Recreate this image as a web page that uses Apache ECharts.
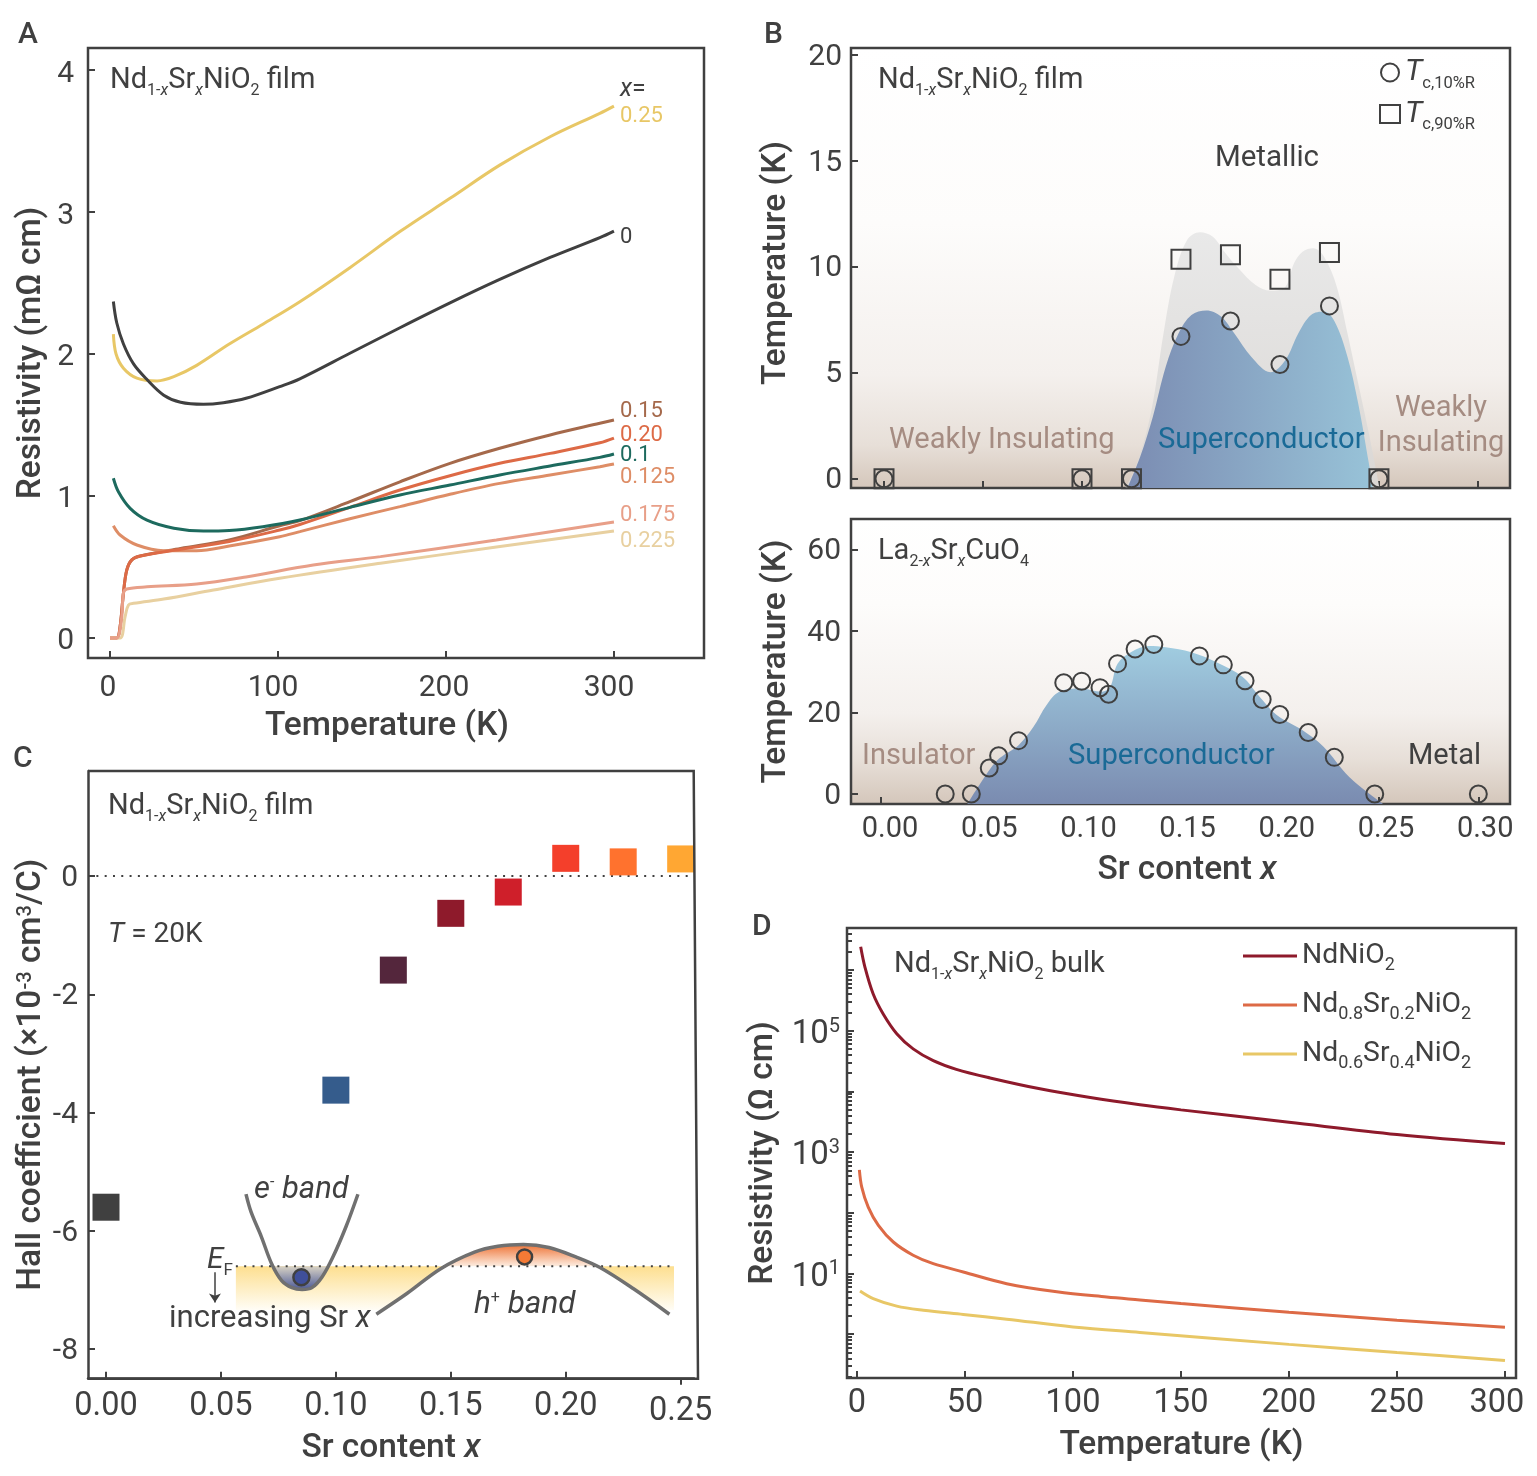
<!DOCTYPE html>
<html><head><meta charset="utf-8">
<style>html,body{margin:0;padding:0;background:#fff}#c{width:1537px;height:1476px}</style>
<script src="https://cdn.jsdelivr.net/npm/echarts@6/dist/echarts.min.js"></script>
</head><body><div id="c"></div>
<script>
// ---------- Panel A : resistivity vs temperature [T (K), rho (mOhm cm)]
const rhoA_000=[[2,2.37],[4,2.22],[8,2.07],[14,1.93],[22,1.82],[32,1.71],[42,1.66],[55.6,1.646],[67.5,1.657],[81,1.688],[101,1.77],[113,1.825],[142.8,2.005],[172.6,2.185],[202.4,2.36],[232,2.525],[262,2.68],[291.6,2.82],[300,2.866]];
const rhoA_025=[[2,2.14],[3.6,2.0],[8,1.9],[16,1.83],[28,1.81],[38,1.84],[51.6,1.92],[71,2.07],[91,2.21],[113,2.368],[142.8,2.608],[172.6,2.862],[202.4,3.096],[232,3.33],[262,3.53],[291.6,3.695],[300,3.746]];
const rhoA_010=[[2,1.125],[5,1.03],[12,.913],[22,.83],[38,.773],[55.6,.753],[71,.757],[91,.784],[113,.831],[142.8,.92],[172.6,1.007],[202.4,1.077],[232,1.148],[262,1.211],[291.6,1.272],[300,1.296]];
const rhoA_0125=[[2,.79],[6,.725],[16,.655],[32,.615],[51.6,.615],[71,.648],[101,.713],[113,.749],[142.8,.84],[172.6,.925],[202.4,1.012],[232,1.089],[262,1.148],[291.6,1.206],[300,1.225]];
const rhoA_015=[[0,0],[4,0],[6,.08],[8,.317],[10,.479],[13,.55],[18,.577],[42,.63],[71,.69],[101,.79],[113,.826],[142.8,.96],[172.6,1.1],[202.4,1.23],[232,1.336],[262,1.43],[291.6,1.512],[300,1.535]];
const rhoA_020=[[0,0],[4,0],[6,.08],[8,.317],[10,.479],[13,.55],[18,.577],[42,.625],[71,.68],[101,.76],[113,.799],[142.8,.92],[172.6,1.042],[202.4,1.143],[232,1.23],[262,1.3],[291.6,1.375],[300,1.408]];
const rhoA_0175=[[0,0],[4,0],[7,.15],[8,.317],[10,.345],[22,.36],[51.6,.38],[81,.43],[121,.514],[161,.573],[230,.69],[300,.817]];
const rhoA_0225=[[0,0],[6,0],[9,.15],[11,.232],[14,.244],[32,.274],[61.6,.338],[101,.42],[161,.526],[230,.64],[300,.754]];
const ticksA_x=[0,100,200,300], ticksA_y=[0,1,2,3,4];
// ---------- Panel B : Nd1-xSrxNiO2 film phase diagram [x, T (K)]
const tc10=[[0,0],[.1,0],[.125,0],[.15,6.72],[.175,7.45],[.2,5.39],[.225,8.16],[.25,0]];
const tc90=[[0,0],[.1,0],[.125,0],[.15,10.36],[.175,10.58],[.2,9.42],[.225,10.68],[.25,0]];
const domeGrey=[[.1218,-.45],[.1272,.57],[.1348,3.09],[.1412,6.87],[.1466,9.54],[.1531,11.27],[.1596,11.64],[.1661,11.43],[.1725,10.65],[.179,9.94],[.1877,9.15],[.1952,8.88],[.2028,9.07],[.2071,10.17],[.2114,10.72],[.2168,10.88],[.2222,10.49],[.2287,9.07],[.2341,6.87],[.2395,4.51],[.2449,2.14],[.2503,-.45]];
const domeBlue=[[.1229,-.45],[.1294,1.04],[.1358,2.93],[.1423,5.29],[.1488,6.87],[.1553,7.73],[.1628,7.94],[.1704,7.65],[.1769,6.87],[.1855,5.76],[.1952,5.03],[.2028,5.61],[.2093,6.87],[.2157,7.73],[.2222,7.89],[.2276,7.42],[.2341,5.76],[.2395,3.56],[.2449,.73],[.247,-.45]];
const ticksB_x=[0,.05,.1,.15,.2,.25,.3], ticksB_y=[0,5,10,15,20];
// ---------- LSCO phase diagram [x, Tc (K)]
const lscoTc=[[.0324,0],[.0455,0],[.0545,6.4],[.0592,9.4],[.0692,13.1],[.0919,27.3],[.1009,27.7],[.1101,26.1],[.1144,24.5],[.1189,32],[.1277,35.6],[.1371,36.7],[.16,33.9],[.172,31.7],[.1829,27.8],[.1915,23.2],[.2003,19.5],[.2146,15.1],[.2277,9],[.248,0],[.3,0]];
const lscoDome=[[.0435,-2.45],[.05,2.6],[.0585,8.3],[.0692,12],[.0767,16.5],[.0832,21.8],[.0896,25.1],[.1003,25.9],[.111,25.1],[.1152,26.3],[.1189,32],[.126,34.9],[.1346,36.3],[.1431,36],[.156,34.8],[.1688,32.3],[.1816,28.8],[.1902,23.9],[.1988,19.4],[.2116,15.7],[.2223,11.6],[.2352,4.2],[.2523,-2.45]];
const ticksL_x=[0,.05,.1,.15,.2,.25,.3], ticksL_y=[0,20,40,60];
// ---------- Panel C : Hall coefficient
const hallX=[0,.1,.125,.15,.175,.2,.225,.25];
const hallY=[-5.6,-3.62,-1.59,-.63,-.27,.3,.24,.29];
const hallColors=['#404040','#355c8c','#54263c','#8e1a2b','#cf1f2a','#f43f2b','#ff722e','#ffa733'];
const ticksC_x=[0,.05,.1,.15,.2], ticksC_y=[-8,-6,-4,-2,0];
const EF=-6.6;
const efLine=[[.0565,EF],[.2471,EF]];
const zeroLine=[[-.0078,0],[.2558,0]];
const eBand=[[.0609,-5.38],[.0631,-5.68],[.0676,-6.1],[.072,-6.55],[.0764,-6.84],[.0809,-6.96],[.0853,-6.99],[.0896,-6.96],[.094,-6.78],[.0985,-6.46],[.1044,-5.93],[.1096,-5.38]];
const eFill=[[.0727,EF],[.0764,-6.84],[.0809,-6.96],[.0853,-6.99],[.0896,-6.96],[.094,-6.78],[.0975,EF]];
const hBand=[[.1176,-7.41],[.1309,-7.06],[.1456,-6.64],[.1603,-6.36],[.1705,-6.26],[.1816,-6.23],[.1927,-6.28],[.2044,-6.44],[.2149,-6.62],[.2295,-6.98],[.2451,-7.41]];
const hFill=[[.1466,EF],[.1603,-6.36],[.1705,-6.26],[.1816,-6.23],[.1927,-6.28],[.2044,-6.44],[.2138,EF]];
const eDot=[.085,-6.785], hDot=[.1821,-6.44];
// ---------- Panel D : bulk resistivity [T (K), rho (Ohm cm)]
const rhoD_Nd=[[1.7,2.4e6],[3.7,1.1e6],[7.5,4e5],[12.2,1.86e5],[18.4,8.9e4],[26,5e4],[35.3,3.2e4],[46,2.3e4],[61.6,1.66e4],[84.7,1.1e4],[108,7.9e3],[131,6e3],[150,4.95e3],[200,3.1e3],[250,1.95e3],[300,1.38e3]];
const rhoD_Sr2=[[1.1,510],[2.2,265],[5.2,124],[9.9,62],[16.8,33],[26,20],[35.3,14.5],[49.2,10.6],[69.3,6.8],[92.5,5],[115.6,4.1],[131,3.67],[150,3.2],[200,2.3],[250,1.7],[300,1.3]];
const rhoD_Sr4=[[1.4,5.15],[7.5,3.86],[18.4,2.9],[30.7,2.48],[49.2,2.11],[69.3,1.77],[100,1.32],[131,1.07],[200,.68],[250,.5],[300,.37]];
const ticksD_x=[0,50,100,150,200,250,300];
const ticksD_major=[1,10,100,1e3,1e4,1e5,1e6];
const ticksD_labeled=[10,1e3,1e5];
const ticksD_minor=[.2,.3,.4,.5,.6,.7,.8,.9,2,3,4,5,6,7,8,9,20,30,40,50,60,70,80,90,200,300,400,500,600,700,800,900,2e3,3e3,4e3,5e3,6e3,7e3,8e3,9e3,2e4,3e4,4e4,5e4,6e4,7e4,8e4,9e4,2e5,3e5,4e5,5e5,6e5,7e5,8e5,9e5,2e6,3e6,4e6];

const INK='#404040', FONT='Roboto';
const chart=echarts.init(document.getElementById('c'),null,{renderer:'canvas'});

const subRich=(fs,sub)=>({
  s:{fontSize:sub,fontFamily:FONT,color:INK,fill:INK,padding:[sub+4,0,0,0]},
  si:{fontSize:sub,fontFamily:FONT,fontStyle:'italic',color:INK,fill:INK,padding:[sub+4,0,0,0]},
  i:{fontSize:fs,fontFamily:FONT,fontStyle:'italic',color:INK,fill:INK},
  u:{fontSize:sub,fontFamily:FONT,color:INK,fill:INK,padding:[0,0,sub,0]}
});
function txt(x,y,text,o={}){
  const fs=o.size||29;
  return {type:'text',z:100,silent:true,style:{x,y:y+4.5,text,fontFamily:FONT,fontSize:fs,fontWeight:o.weight||400,fontStyle:o.italic?'italic':'normal',fill:o.color||INK,align:o.align||'left',verticalAlign:'middle',rich:o.rich||subRich(fs,o.sub||16)}};
}
const gridBox=(l,t,r,b,extra={})=>Object.assign({left:l,top:t,width:r-l,height:b-t,show:true,borderColor:INK,borderWidth:2.5,backgroundColor:'transparent',outerBoundsMode:'none'},extra);
const bgGrad=(a,b,c)=>({type:'linear',x:0,y:0,x2:0,y2:1,colorStops:[{offset:0,color:'#ffffff'},{offset:a,color:'#fdfcfb'},{offset:b,color:'#f4f0ed'},{offset:c,color:'#e7dfd8'},{offset:1,color:'#d4c6ba'}]});
const NS=33.5;
const nameStyle=(extra={})=>Object.assign({fontFamily:FONT,fontSize:NS,fontWeight:500,color:INK,rich:{i:{fontFamily:FONT,fontSize:NS,fontWeight:500,fontStyle:'italic',color:INK},u:{fontFamily:FONT,fontSize:20,fontWeight:500,color:INK,padding:[0,0,13,0]}}},extra);

function axis(kind,grid,min,max,ticks,o={}){
  const fs=o.fs||30;
  let fmt=o.fmt, rich=o.rich;
  if(o.down){ // nudges the tick label below its tick through a rich-text box
    const inner=fmt||(v=>String(v));
    fmt=v=>'{v|'+inner(v)+'}';
    rich=Object.assign({v:{fontFamily:FONT,fontSize:fs,color:INK,padding:[o.down*2,0,0,0]}},rich||{});
  }
  return {type:o.type||'value',gridIndex:grid,min,max,position:o.position,
    axisLine:{show:!!o.line,onZero:false,lineStyle:{color:INK,width:2.5}},
    axisTick:{show:o.tick!==false,inside:o.inside!==false,length:o.tickLen||7,customValues:ticks,lineStyle:{color:INK,width:2}},
    axisLabel:{show:o.label!==false,customValues:o.labelValues||ticks,margin:o.margin||12,fontFamily:FONT,fontSize:fs,color:INK,formatter:fmt,rich,hideOverlap:false,showMinLabel:true,showMaxLabel:true},
    splitLine:{show:false},
    name:o.name,nameLocation:'middle',nameGap:o.nameGap,nameMoveOverlap:false,nameTextStyle:o.nameStyle||nameStyle()};
}
const f2=v=>(+v).toFixed(2);
const shiftA={0:4,100:10,200:4,300:10};

const xAxes=[
 axis('x',0,-13.1,353.6,ticksA_x,{position:'bottom',margin:15,fs:30,fmt:v=>'{p'+v+'|'+v+'}',
    rich:Object.fromEntries(ticksA_x.map(v=>['p'+v,{fontFamily:FONT,fontSize:30,color:INK,padding:[0,shiftA[v],0,0]}])),
    name:'Temperature (K)',nameGap:52,nameStyle:nameStyle({padding:[0,18,0,0]})}),
 axis('x',1,-.01667,.3162,ticksB_x,{position:'bottom',label:false}),
 axis('x',2,-.0149,.3159,ticksL_x,{position:'bottom',label:false}),
 axis('x',2,-.01966,.3125,ticksL_x,{position:'bottom',tick:false,fs:29,margin:11,fmt:f2,name:'Sr content {i|x}',nameGap:50,nameStyle:nameStyle({padding:[0,0,0,13]})}),
 axis('x',3,-.00783,.2558,ticksC_x,{position:'bottom',line:true,fs:32.5,margin:12,fmt:f2,name:'Sr content {i|x}',nameGap:53}),
 axis('x',3,-.00783,.2558,[.25],{position:'bottom',inside:false,tickLen:6,fs:32.5,margin:17,fmt:f2}),
 axis('x',4,-4.63,305.1,ticksD_x,{position:'bottom',fs:32.5,margin:9,name:'Temperature (K)',nameGap:51,fmt:v=>+v===300?'{l|300}':v,rich:{l:{fontFamily:FONT,fontSize:32.5,color:INK,padding:[0,16,0,0]}}})
];
const yAxes=[
 axis('y',0,-.141,4.155,ticksA_y,{position:'left',margin:14,down:4,name:'Resistivity (mΩ cm)',nameGap:39}),
 axis('y',1,-.44,20.34,ticksB_y,{position:'left',margin:9,down:2,name:'Temperature (K)',nameGap:57,nameStyle:nameStyle({padding:[0,0,0,10]})}),
 axis('y',2,-2.45,67.5,ticksL_y,{position:'left',margin:10,down:2,name:'Temperature (K)',nameGap:57}),
 axis('y',3,-8.5,1.777,ticksC_y,{position:'left',line:true,margin:10,down:2.5,name:'Hall coefficient (×10{u|-3} cm{u|3}/C)',nameGap:39}),
 axis('y',4,.19,4.9e6,ticksD_major,{type:'log',position:'left',labelValues:ticksD_labeled,margin:7,fs:33,name:'Resistivity (Ω cm)',nameGap:66,
    fmt:v=>'{d|10}{u|'+Math.round(Math.log10(v))+'}',rich:{d:{fontFamily:FONT,fontSize:33,color:INK,padding:[8,0,0,0]},u:{fontFamily:FONT,fontSize:20,color:INK,padding:[0,0,8,0]}}}),
 axis('y',4,.19,4.9e6,ticksD_minor,{type:'log',position:'left',label:false,tickLen:5})
];

const SM=.35;
const line=(name,data,color,xi,yi,o={})=>Object.assign({type:'line',name,data,xAxisIndex:xi,yAxisIndex:yi,showSymbol:false,symbol:'none',smooth:SM,lineStyle:{color,width:o.w||3},itemStyle:{color},silent:true,animation:false,z:o.z||5},o.extra||{});
const endL=(text,color,dy)=>({endLabel:{show:true,formatter:text,color,fontFamily:FONT,fontSize:22,distance:6,offset:[0,dy],align:'left',verticalAlign:'middle'}});
const area=(name,data,fill,xi,yi,origin,z,o={})=>({type:'line',name,data,xAxisIndex:xi,yAxisIndex:yi,showSymbol:false,symbol:'none',smooth:o.smooth===undefined?SM:o.smooth,lineStyle:{width:0,opacity:0},areaStyle:{color:fill,opacity:1,origin},silent:true,animation:false,z});
const open=(name,data,sym,size,xi,yi,z)=>({type:'scatter',name,data,xAxisIndex:xi,yAxisIndex:yi,symbol:sym,symbolSize:size,itemStyle:{color:'rgba(0,0,0,0)',borderColor:INK,borderWidth:2,opacity:1},silent:true,animation:false,z:z||8});

const series=[
 line('x=0.15',rhoA_015,'#a5694b',0,0,{extra:endL('0.15','#a5694b',-9)}),
 line('x=0.125',rhoA_0125,'#de8d66',0,0,{extra:endL('0.125','#de8d66',13)}),
 line('x=0.20',rhoA_020,'#dd6a46',0,0,{extra:endL('0.20','#dd6a46',-3)}),
 line('x=0.1',rhoA_010,'#1d6a5e',0,0,{extra:endL('0.1','#1d6a5e',2)}),
 line('x=0.225',rhoA_0225,'#e8d0a0',0,0,{extra:endL('0.225','#e8d0a0',11)}),
 line('x=0.175',rhoA_0175,'#e89f88',0,0,{extra:endL('0.175','#e89f88',-6)}),
 line('x=0.25',rhoA_025,'#e8c766',0,0,{extra:endL('0.25','#e8c766',10)}),
 line('x=0',rhoA_000,INK,0,0,{extra:endL('0',INK,6)}),

 area('Tc90 dome',domeGrey,{type:'linear',x:0,y:0,x2:0,y2:1,colorStops:[{offset:0,color:'#e9e9e9'},{offset:1,color:'#dad7d4'}]},1,1,-.44,2),
 area('Tc10 dome',domeBlue,{type:'linear',x:0,y:0,x2:1,y2:0,colorStops:[{offset:0,color:'#7b8cb2'},{offset:1,color:'#98c3d8'}]},1,1,-.44,3),
 open('Tc,10%R',tc10,'circle',17,1,1),
 open('Tc,90%R',tc90,'rect',19,1,1),

 area('LSCO dome',lscoDome,{type:'linear',x:0,y:0,x2:0,y2:1,colorStops:[{offset:0,color:'#a0cce0'},{offset:1,color:'#7a8bb0'}]},2,2,-2.45,3),
 open('LSCO Tc',lscoTc,'circle',17,2,2),

 {type:'line',name:'zero',data:zeroLine,xAxisIndex:4,yAxisIndex:3,showSymbol:false,symbol:'none',lineStyle:{color:INK,width:2,type:[2,6.3]},silent:true,animation:false,z:3},
 {type:'scatter',name:'Hall',data:hallX.map((x,i)=>({value:[x,hallY[i]],itemStyle:{color:hallColors[i],opacity:1}})),xAxisIndex:4,yAxisIndex:3,symbol:'rect',symbolSize:27,silent:true,animation:false,z:6},
 area('EF fill',efLine,{type:'linear',x:0,y:0,x2:0,y2:1,colorStops:[{offset:0,color:'#fddf90'},{offset:1,color:'#fffdf6'}]},4,3,-7.34,2,{smooth:false}),
 area('h interior',hBand,'#ffffff',4,3,-7.41,3),
 area('h fill',hFill,{type:'linear',x:0,y:0,x2:0,y2:1,colorStops:[{offset:0,color:'#ee7437'},{offset:1,color:'#fdeee2'}]},4,3,EF,4),
 area('e fill',eFill,{type:'linear',x:0,y:0,x2:0,y2:1,colorStops:[{offset:0,color:'#d8d2c4'},{offset:1,color:'#4c5a98'}]},4,3,EF,4),
 {type:'line',name:'EF',data:efLine,xAxisIndex:4,yAxisIndex:3,showSymbol:false,symbol:'none',lineStyle:{color:INK,width:2,type:[2,6.3]},silent:true,animation:false,z:5,
  markLine:{silent:true,animation:false,symbol:['none','arrow'],symbolSize:9,label:{show:false},lineStyle:{color:INK,width:1.5,type:'solid'},data:[[{coord:[.0474,-6.7]},{coord:[.0474,-7.21]}]]}},
 line('e band',eBand,'#707070',4,3,{w:3.5,z:6}),
 line('h band',hBand,'#707070',4,3,{w:3.5,z:6}),
 {type:'scatter',name:'e dot',data:[eDot],xAxisIndex:4,yAxisIndex:3,symbolSize:16,itemStyle:{color:'#3f4f9a',borderColor:INK,borderWidth:2.5,opacity:1},silent:true,animation:false,z:7},
 {type:'scatter',name:'h dot',data:[hDot],xAxisIndex:4,yAxisIndex:3,symbolSize:15,itemStyle:{color:'#f47a35',borderColor:INK,borderWidth:2.5,opacity:1},silent:true,animation:false,z:7},

 line('NdNiO2',rhoD_Nd,'#8e1a2b',6,4,{}),
 line('Nd0.8Sr0.2NiO2',rhoD_Sr2,'#dd6a46',6,4,{}),
 line('Nd0.6Sr0.4NiO2',rhoD_Sr4,'#e8c766',6,4,{})
];

const legSub={fontFamily:FONT,fontSize:18,color:INK,padding:[18,0,0,0]};
const legD={'NdNiO2':'NdNiO{s|2}','Nd0.8Sr0.2NiO2':'Nd{s|0.8}Sr{s|0.2}NiO{s|2}','Nd0.6Sr0.4NiO2':'Nd{s|0.6}Sr{s|0.4}NiO{s|2}'};
const legB={'Tc,10%R':'{t|T}{s|c,10%R}','Tc,90%R':'{t|T}{s|c,90%R}'};

const titleN=(x,y,t)=>txt(x,y,t,{size:29,sub:16});
chart.setOption({
 animation:false,backgroundColor:'#fff',textStyle:{fontFamily:FONT},
 grid:[
  gridBox(88,48,704,658),
  gridBox(851,48,1510,488,{backgroundColor:bgGrad(.4,.74,.9)}),
  gridBox(851,519,1510,804,{backgroundColor:bgGrad(.3,.68,.84)}),
  {left:88,top:771,width:606,height:607.7,show:false,outerBoundsMode:'none'},
  gridBox(847,928,1516,1378)
 ],
 xAxis:xAxes,yAxis:yAxes,series,
 legend:[
  {data:Object.keys(legD),orient:'vertical',left:1243,top:938,padding:0,icon:'rect',itemWidth:54,itemHeight:3,itemGap:13,selectedMode:false,
   formatter:n=>legD[n],textStyle:{fontFamily:FONT,fontSize:28.3,color:INK,lineHeight:36,rich:{s:legSub}}},
  {data:Object.keys(legB),orient:'vertical',left:1379,top:54,padding:0,itemWidth:20,itemHeight:18,itemGap:3.5,selectedMode:false,
   formatter:n=>legB[n],textStyle:{fontFamily:FONT,fontSize:16.5,color:INK,lineHeight:37,rich:{t:{fontFamily:FONT,fontSize:30,fontStyle:'italic',color:INK},s:{fontFamily:FONT,fontSize:16.5,color:INK,padding:[22,0,0,0]}}}}
 ],
 graphic:{elements:[
  txt(18,31,'A',{size:30,weight:500}),txt(764,31,'B',{size:30,weight:500}),txt(13,755,'C',{size:30,weight:500}),txt(752,923,'D',{size:30,weight:500}),
  titleN(110,76,'Nd{s|1-}{si|x}Sr{si|x}NiO{s|2} film'),
  txt(620,85,'{i|x}=',{size:25}),
  titleN(878,76,'Nd{s|1-}{si|x}Sr{si|x}NiO{s|2} film'),
  txt(1267,154,'Metallic',{size:29.5,align:'center'}),
  txt(889,436,'Weakly Insulating',{size:29,color:'#a58c82'}),
  txt(1158,436,'Superconductor',{size:29.2,color:'#1a6a96'}),
  txt(1441,404,'Weakly',{size:29,color:'#a58c82',align:'center'}),
  txt(1441,439,'Insulating',{size:29,color:'#a58c82',align:'center'}),
  titleN(878,547,'La{s|2-}{si|x}Sr{si|x}CuO{s|4}'),
  txt(862,752,'Insulator',{size:29,color:'#a58c82'}),
  txt(1068,752,'Superconductor',{size:29.2,color:'#1a6a96'}),
  txt(1408,752,'Metal',{size:29}),
  titleN(108,802,'Nd{s|1-}{si|x}Sr{si|x}NiO{s|2} film'),
  txt(108,930,'{i|T} = 20K',{size:28}),
  txt(254,1186,'{i|e}{u|-}{i| band}',{size:31}),
  txt(207,1256,'{i|E}{s|F}',{size:30,sub:17}),
  txt(169,1315,'increasing Sr {i|x}',{size:31}),
  txt(474,1301,'{i|h}{u|+}{i| band}',{size:31.5}),
  titleN(894,960,'Nd{s|1-}{si|x}Sr{si|x}NiO{s|2} bulk'),
  {type:'polyline',z:50,silent:true,shape:{points:[[88,771],[693.7,771],[698,1378.7],[88,1378.7]]},style:{stroke:INK,lineWidth:2.5,fill:null}}
 ]}
});
</script></body></html>
